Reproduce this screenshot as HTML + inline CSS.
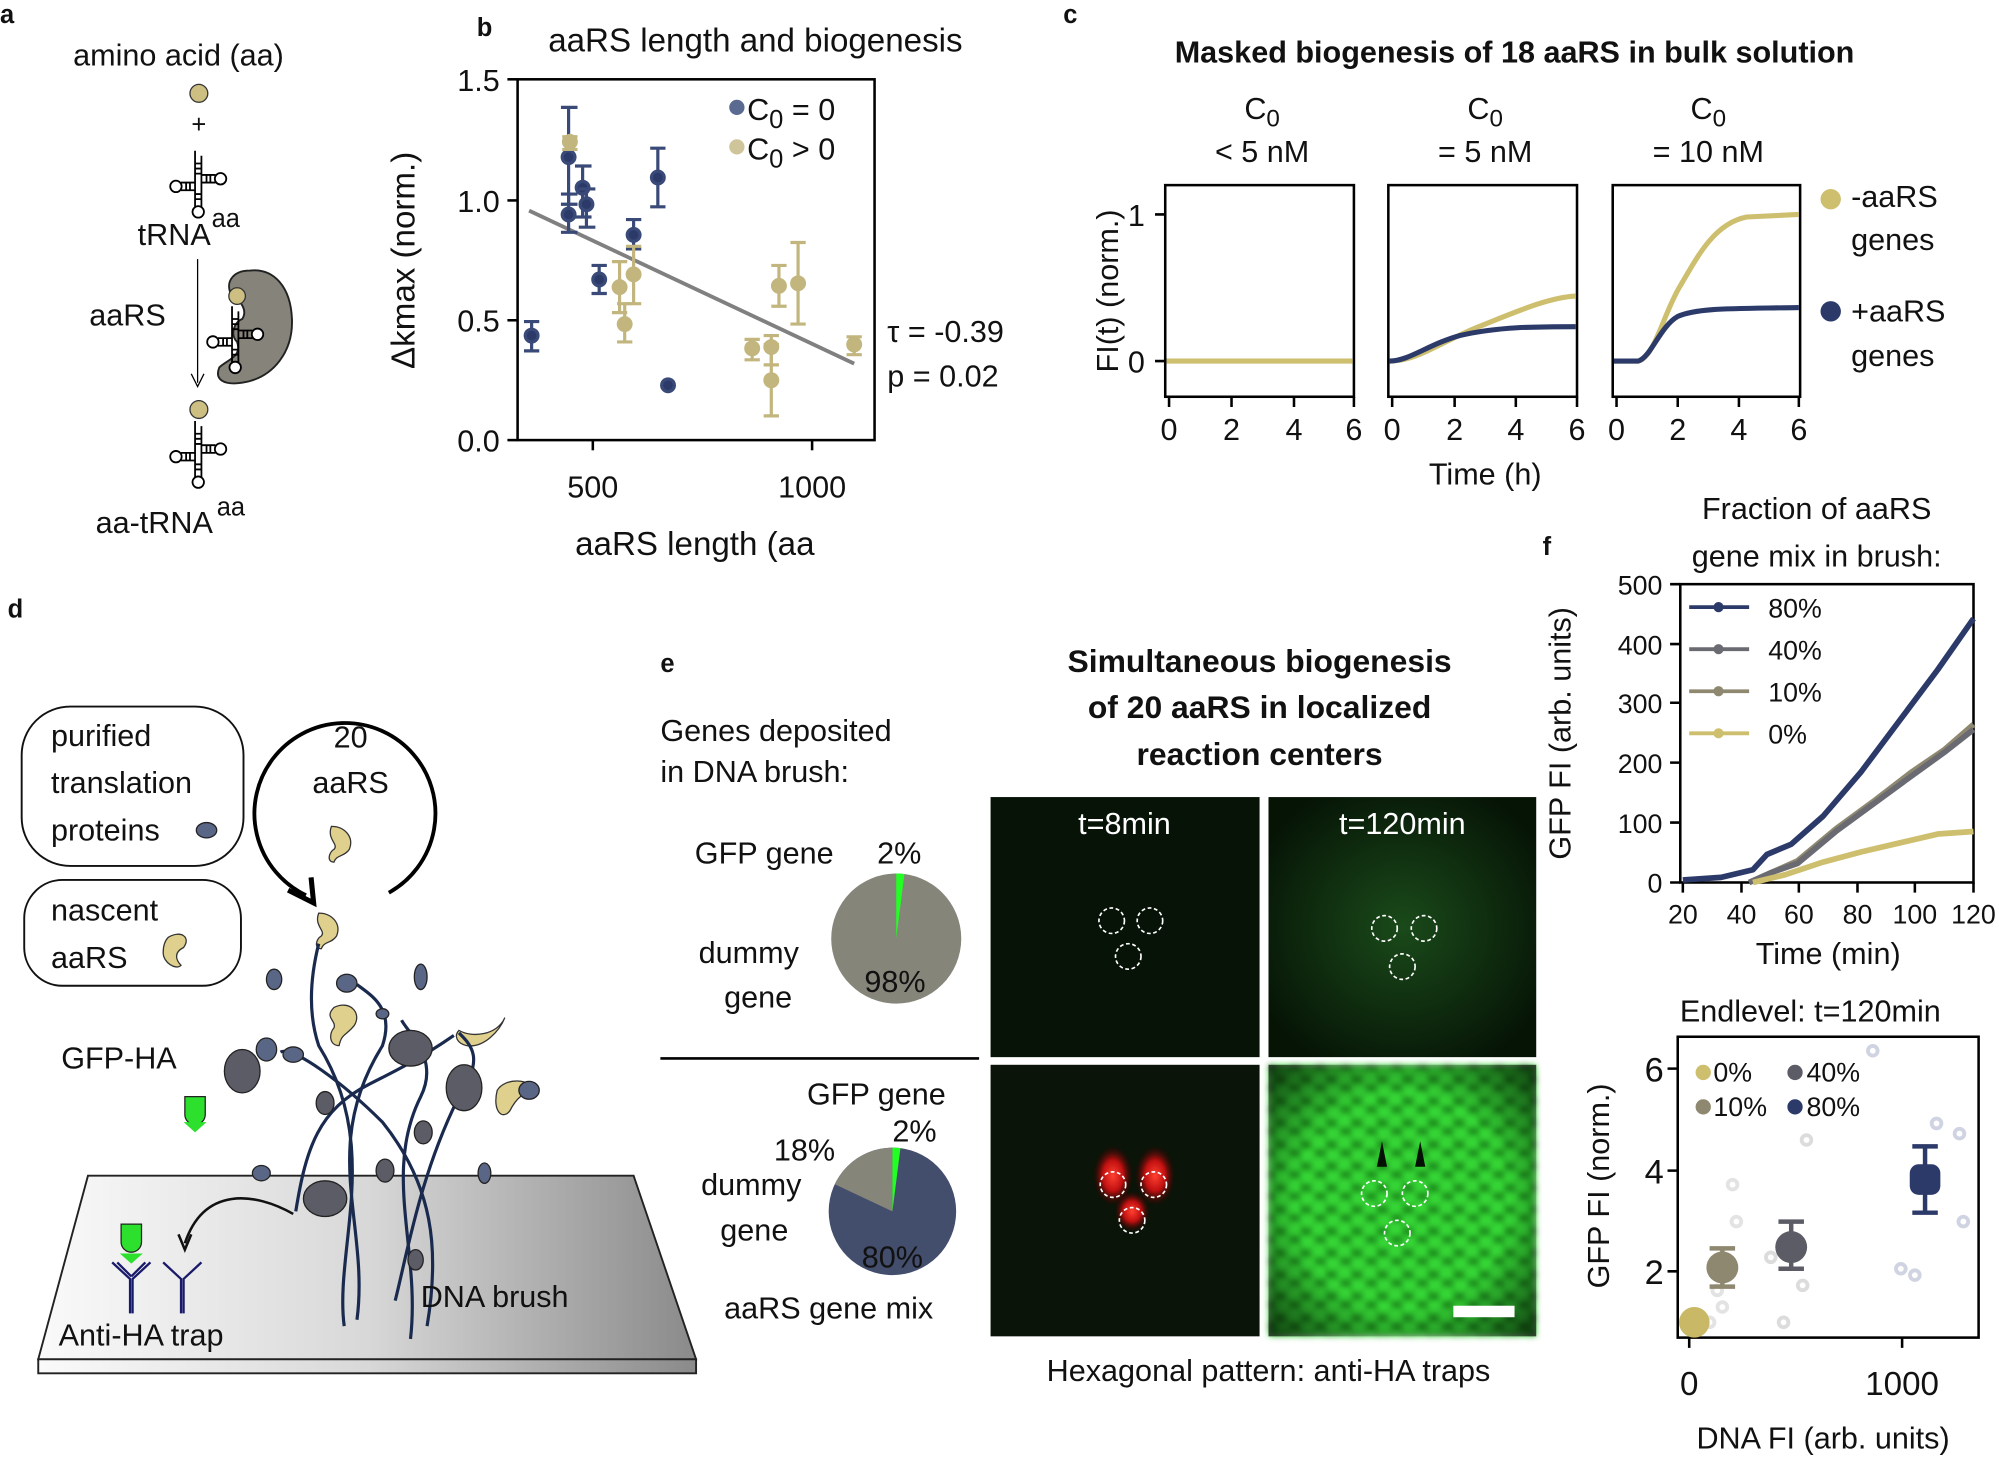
<!DOCTYPE html>
<html><head><meta charset="utf-8"><style>
html,body{margin:0;padding:0;background:#fff}
svg{display:block}
text{font-family:"Liberation Sans","DejaVu Sans",sans-serif;fill:#111}
.t{font-size:24px}
.b{font-weight:bold}
</style></head><body>
<svg width="1999" height="1459" viewBox="0 0 1568 1144" xmlns="http://www.w3.org/2000/svg">
<defs>
<linearGradient id="pl" x1="0" x2="1" y1="0" y2="0"><stop offset="0" stop-color="#fafafa"/><stop offset="0.5" stop-color="#d8d8d8"/><stop offset="1" stop-color="#8a8a8a"/></linearGradient>
<pattern id="hex" width="20" height="17" patternUnits="userSpaceOnUse"><rect width="20" height="17" fill="#1b8c1b"/><circle cx="5" cy="4" r="6.5" fill="#36d636"/><circle cx="15" cy="12.5" r="6.5" fill="#36d636"/></pattern>
<filter id="bl"><feGaussianBlur stdDeviation="2.2"/></filter>
<radialGradient id="vg" cx="0.5" cy="0.5" r="0.72"><stop offset="0.55" stop-color="#000" stop-opacity="0"/><stop offset="1" stop-color="#000" stop-opacity="0.75"/></radialGradient>
<radialGradient id="gl" cx="0.5" cy="0.5" r="0.6"><stop offset="0" stop-color="#1a4a1a"/><stop offset="1" stop-color="#061406"/></radialGradient>
<radialGradient id="rd" cx="0.5" cy="0.5" r="0.5"><stop offset="0" stop-color="#ff4030"/><stop offset="0.5" stop-color="#c01010"/><stop offset="1" stop-color="#300" stop-opacity="0"/></radialGradient>
<g id="trna" stroke="#000" stroke-width="1.4" fill="#fff">
<path d="M-2 -22 V22 M3 -18 V22" fill="none"/>
<path d="M-2 -12 h5 M-2 -8 h5 M-2 -4 h5 M-2 12 h5 M-2 16 h5" fill="none"/>
<path d="M3 -3 H14 M3 3 H14 M7 -3 v6 M10 -3 v6" fill="none"/>
<circle cx="18" cy="0" r="4.5"/>
<path d="M-2 3 H-13 M-2 9 H-13 M-6 3 v6 M-9 3 v6" fill="none"/>
<circle cx="-17" cy="6" r="4.5"/>
<circle cx="0.5" cy="26" r="4.5"/>
</g>
</defs>

<!-- ===== Panel a ===== -->
<text x="0" y="18" class="b" font-size="20">a</text>
<text x="140" y="51" class="t" text-anchor="middle">amino acid (aa)</text>
<circle cx="156" cy="73" r="7" fill="#cdbf82" stroke="#333"/>
<text x="156" y="104" font-size="20" text-anchor="middle">+</text>
<use href="#trna" x="155" y="140"/>
<text x="108" y="192" class="t">tRNA</text><text x="166" y="178" font-size="20">aa</text>
<path d="M196 212 C182 212 176 222 182 232 C190 236 194 244 190 250 C184 252 180 262 186 268 C190 280 178 282 172 288 C168 298 176 302 190 300 C215 296 230 275 229 250 C228 225 215 210 196 212Z" fill="#86847a" stroke="#222" stroke-width="1.5"/>
<circle cx="186" cy="232" r="6.5" fill="#cdbf82" stroke="#333"/>
<use href="#trna" x="184" y="262" transform="scale(1)"/>
<line x1="155" y1="203" x2="155" y2="300" stroke="#000"/><path d="M150 293 L155 303 L160 293" fill="none" stroke="#000"/>
<text x="70" y="255" class="t">aaRS</text>
<circle cx="156" cy="321" r="7" fill="#cdbf82" stroke="#333"/>
<use href="#trna" x="155" y="352"/>
<text x="75" y="418" class="t">aa-tRNA</text><text x="170" y="404" font-size="20">aa</text>

<!-- ===== Panel b ===== -->
<text x="374" y="28" class="b" font-size="20">b</text>
<text x="430" y="40" font-size="26">aaRS length and biogenesis</text>
<rect x="406" y="62" width="280" height="283" fill="none" stroke="#000" stroke-width="2"/>
<g stroke="#000" stroke-width="2"><line x1="398" y1="62" x2="406" y2="62"/><line x1="398" y1="157" x2="406" y2="157"/><line x1="398" y1="251" x2="406" y2="251"/><line x1="398" y1="345" x2="406" y2="345"/><line x1="465" y1="345" x2="465" y2="353"/><line x1="637" y1="345" x2="637" y2="353"/></g>
<g class="t" text-anchor="end"><text x="392" y="71">1.5</text><text x="392" y="166">1.0</text><text x="392" y="260">0.5</text><text x="392" y="354">0.0</text></g>
<text x="465" y="390" class="t" text-anchor="middle">500</text><text x="637" y="390" class="t" text-anchor="middle">1000</text>
<text x="545" y="435" font-size="26" text-anchor="middle">aaRS length (aa</text>
<text transform="translate(325,204) rotate(-90)" font-size="26" text-anchor="middle">Δkmax (norm.)</text>
<line x1="415" y1="165" x2="670" y2="285" stroke="#808080" stroke-width="3"/>
<g stroke="#3a4a78" stroke-width="2.5" fill="#2c3a6a">
<path d="M411 252 H423 M417 252 V275 M411 275 H423"/><circle cx="417" cy="263" r="5"/>
<path d="M440 84 H453 M446 84 V160 M440 160 H453"/><circle cx="446" cy="123" r="5"/>
<path d="M440 152 H453 M446 152 V182 M440 182 H453"/><circle cx="446" cy="168" r="5"/>
<path d="M451 130 H464 M457 130 V170 M451 170 H464"/><circle cx="457" cy="147" r="5"/>
<path d="M454 148 H467 M460 148 V178 M454 178 H467"/><circle cx="460" cy="160" r="5"/>
<path d="M464 208 H476 M470 208 V230 M464 230 H476"/><circle cx="470" cy="219" r="5"/>
<path d="M491 172 H503 M497 172 V195 M491 195 H503"/><circle cx="497" cy="184" r="5"/>
<path d="M510 116 H522 M516 116 V162 M510 162 H522"/><circle cx="516" cy="139" r="5"/>
<circle cx="524" cy="302" r="5"/>
</g>
<g stroke="#c2b67e" stroke-width="2.5" fill="#c2b67e">
<path d="M441 107 H453 M447 107 V117 M441 117 H453"/><circle cx="447" cy="111" r="5"/>
<path d="M480 205 H492 M486 205 V245 M480 245 H492"/><circle cx="486" cy="225" r="5"/>
<path d="M484 238 H496 M490 238 V268 M484 268 H496"/><circle cx="490" cy="254" r="5"/>
<path d="M491 193 H503 M497 193 V238 M491 238 H503"/><circle cx="497" cy="215" r="5"/>
<path d="M599 263 H611 M605 263 V286 M599 286 H611"/><circle cx="605" cy="272" r="5"/>
<path d="M584 266 H596 M590 266 V282 M584 282 H596"/><circle cx="590" cy="273" r="5"/>
<path d="M599 270 H611 M605 270 V326 M599 326 H611"/><circle cx="605" cy="298" r="5"/>
<path d="M605 208 H617 M611 208 V240 M605 240 H617"/><circle cx="611" cy="224" r="5"/>
<path d="M620 190 H632 M626 190 V254 M620 254 H632"/><circle cx="626" cy="222" r="5"/>
<path d="M664 264 H676 M670 264 V278 M664 278 H676"/><circle cx="670" cy="270" r="5"/>
</g>
<circle cx="578" cy="84" r="6" fill="#5a6a90"/><text x="586" y="94" class="t">C<tspan font-size="20" dy="6">0</tspan><tspan dy="-6"> = 0</tspan></text>
<circle cx="578" cy="115" r="6" fill="#cfc49a"/><text x="586" y="125" class="t">C<tspan font-size="20" dy="6">0</tspan><tspan dy="-6"> &gt; 0</tspan></text>
<text x="696" y="268" class="t">τ = -0.39</text>
<text x="696" y="303" class="t">p = 0.02</text>

<!-- ===== Panel c ===== -->
<text x="834" y="18" class="b" font-size="20">c</text>
<text x="1188" y="49" font-size="24" class="b" text-anchor="middle">Masked biogenesis of 18 aaRS in bulk solution</text>
<g class="t" text-anchor="middle">
<text x="990" y="93">C<tspan font-size="19" dy="6">0</tspan></text><text x="990" y="127">&lt; 5 nM</text>
<text x="1165" y="93">C<tspan font-size="19" dy="6">0</tspan></text><text x="1165" y="127">= 5 nM</text>
<text x="1340" y="93">C<tspan font-size="19" dy="6">0</tspan></text><text x="1340" y="127">= 10 nM</text>
</g>
<g fill="none" stroke="#000" stroke-width="2">
<rect x="914" y="145" width="148" height="166"/><rect x="1089" y="145" width="148" height="166"/><rect x="1265" y="145" width="147" height="166"/>
<path d="M906 168 H914 M906 283 H914"/>
<path d="M917 311 v8 M966 311 v8 M1015 311 v8 M1062 311 v8"/>
<path d="M1092 311 v8 M1141 311 v8 M1189 311 v8 M1237 311 v8"/>
<path d="M1268 311 v8 M1316 311 v8 M1364 311 v8 M1411 311 v8"/>
</g>
<g class="t" text-anchor="middle">
<text x="917" y="345">0</text><text x="966" y="345">2</text><text x="1015" y="345">4</text><text x="1062" y="345">6</text>
<text x="1092" y="345">0</text><text x="1141" y="345">2</text><text x="1189" y="345">4</text><text x="1237" y="345">6</text>
<text x="1268" y="345">0</text><text x="1316" y="345">2</text><text x="1364" y="345">4</text><text x="1411" y="345">6</text>
<text x="1165" y="380">Time (h)</text>
</g>
<text x="898" y="177" class="t" text-anchor="end">1</text><text x="898" y="292" class="t" text-anchor="end">0</text>
<text transform="translate(877,228) rotate(-90)" class="t" text-anchor="middle">FI(t) (norm.)</text>
<line x1="915" y1="283" x2="1061" y2="283" stroke="#cdbf6e" stroke-width="4"/>
<path d="M1090 283 C1112 283 1130 268 1160 256 C1190 244 1215 233 1236 232" fill="none" stroke="#cdbf6e" stroke-width="4"/>
<path d="M1090 283 C1105 283 1120 270 1145 263 C1175 256 1205 256 1236 256" fill="none" stroke="#2c3a6a" stroke-width="4"/>
<path d="M1266 283 L1285 283 C1298 280 1305 245 1318 224 C1332 200 1345 175 1370 170 L1411 168" fill="none" stroke="#cdbf6e" stroke-width="4"/>
<path d="M1266 283 L1285 283 C1295 280 1302 256 1316 248 C1332 241 1360 242 1411 241" fill="none" stroke="#2c3a6a" stroke-width="4"/>
<circle cx="1436" cy="156" r="8" fill="#cdbf6e"/><text x="1452" y="162" class="t">-aaRS</text><text x="1452" y="196" class="t">genes</text>
<circle cx="1436" cy="244" r="8" fill="#2c3a6a"/><text x="1452" y="252" class="t">+aaRS</text><text x="1452" y="287" class="t">genes</text>

<!-- ===== Panel d ===== -->
<text x="6" y="484" class="b" font-size="20">d</text>
<polygon points="69,922 497,922 546,1066 30,1066" fill="url(#pl)" stroke="#222" stroke-width="1.5"/>
<rect x="30" y="1066" width="516" height="11" fill="url(#pl)" stroke="#222" stroke-width="1.5"/>
<rect x="17" y="554" width="174" height="125" rx="38" fill="#fff" stroke="#111" stroke-width="1.5"/>
<text x="40" y="585" class="t">purified</text><text x="40" y="622" class="t">translation</text><text x="40" y="659" class="t">proteins</text>
<ellipse cx="162" cy="651" rx="8" ry="6" fill="#5a6685" stroke="#222"/>
<rect x="19" y="690" width="170" height="83" rx="30" fill="#fff" stroke="#111" stroke-width="1.5"/>
<text x="40" y="722" class="t">nascent</text><text x="40" y="759" class="t">aaRS</text>
<path d="M305 700 A71 71 0 1 0 240 702" fill="none" stroke="#000" stroke-width="3"/>
<path d="M226 698 L246 708 L244 688" fill="none" stroke="#000" stroke-width="4"/>
<text x="275" y="586" class="t" text-anchor="middle">20</text><text x="275" y="622" class="t" text-anchor="middle">aaRS</text>
<g fill="#e0d08e" stroke="#333" stroke-width="1">
<path d="M132 735 c10 -6 18 0 12 8 c-8 4 -6 10 -2 14 c-4 4 -14 -2 -14 -10 c0 -6 2 -10 4 -12z"/>
<path d="M260 648 c10 0 18 8 14 18 c-4 6 -10 4 -12 10 c-6 0 -4 -8 0 -10 c4 -4 -6 -8 -2 -18z"/>
<path d="M250 716 c10 0 18 8 14 18 c-4 6 -10 4 -12 10 c-6 0 -4 -8 0 -10 c4 -4 -6 -8 -2 -18z"/>
<path d="M262 790 c12 -6 22 4 16 14 c-6 8 -10 6 -12 16 c-8 0 -8 -10 -4 -14 c2 -6 -8 -8 0 -16z"/>
<path d="M360 808 c10 6 30 4 36 -10 c-4 10 -16 24 -30 22 c-8 -2 -10 -8 -6 -12z"/>
<path d="M390 855 c6 -10 26 -10 32 2 c-10 -4 -18 6 -22 14 c-6 8 -14 0 -10 -16z"/>
</g>
<g fill="none" stroke="#1a2a4e" stroke-width="2.5">
<path d="M270 1040 C262 980 300 900 250 820 C240 790 245 760 250 740"/>
<path d="M280 1035 C290 960 250 900 300 820 C310 790 290 780 280 772"/>
<path d="M322 1050 C330 980 300 920 330 860 C345 830 320 810 315 800"/>
<path d="M335 1040 C345 980 340 930 300 880 C270 850 230 820 220 825"/>
<path d="M310 1020 C320 980 330 920 360 860 C380 830 370 820 360 810"/>
<path d="M232 950 C240 900 250 870 290 850 C310 840 330 830 356 812"/>
</g>
<g fill="#5a6685" stroke="#222" stroke-width="1">
<ellipse cx="215" cy="768" rx="6" ry="8"/><ellipse cx="272" cy="771" rx="8" ry="7"/><ellipse cx="209" cy="823" rx="8" ry="9"/>
<ellipse cx="330" cy="766" rx="5" ry="10"/><ellipse cx="300" cy="795" rx="5" ry="4"/><ellipse cx="415" cy="855" rx="8" ry="7"/>
<ellipse cx="380" cy="920" rx="5" ry="8"/><ellipse cx="205" cy="920" rx="7" ry="6"/><ellipse cx="230" cy="827" rx="8" ry="6"/>
</g>
<g fill="#5c5c66" stroke="#222" stroke-width="1">
<ellipse cx="190" cy="840" rx="14" ry="17"/><ellipse cx="322" cy="822" rx="17" ry="14"/><ellipse cx="364" cy="853" rx="14" ry="18"/>
<ellipse cx="255" cy="940" rx="17" ry="14"/><ellipse cx="255" cy="865" rx="7" ry="9"/><ellipse cx="302" cy="918" rx="7" ry="9"/><ellipse cx="332" cy="888" rx="7" ry="9"/><ellipse cx="326" cy="988" rx="6" ry="8"/>
</g>
<text x="48" y="838" class="t">GFP-HA</text>
<path d="M145 860 h16 v14 a8 8 0 0 1 -16 0z" fill="#2ee02e" stroke="#222"/><path d="M144 880 L162 880 L153 888z" fill="#2ee02e"/>
<path d="M95 960 h16 v14 a8 8 0 0 1 -16 0z" fill="#2ee02e" stroke="#222"/><path d="M94 983 L112 983 L103 991z" fill="#2ee02e"/>
<path d="M230 952 C200 935 160 930 145 975" fill="none" stroke="#111" stroke-width="2"/><path d="M140 968 L145 980 L150 968" fill="none" stroke="#111" stroke-width="2"/>
<g fill="none" stroke="#1a1a6a" stroke-width="1.8"><path d="M88 990 L102 1003 V1030 M118 990 L104 1003 V1030 M92 990 L103 1001 M114 990 L103 1001"/><path d="M128 990 L142 1003 V1030 M158 990 L144 1003 V1030"/></g>
<text x="46" y="1055" class="t">Anti-HA trap</text>
<text x="330" y="1025" class="t">DNA brush</text>

<!-- ===== Panel e ===== -->
<text x="518" y="527" class="b" font-size="20">e</text>
<text x="518" y="581" class="t">Genes deposited</text><text x="518" y="613" class="t">in DNA brush:</text>
<text x="545" y="677" class="t">GFP gene</text><text x="688" y="677" class="t">2%</text>
<text x="548" y="755" class="t">dummy</text><text x="568" y="790" class="t">gene</text>
<circle cx="703" cy="736" r="51" fill="#86857a"/>
<path d="M703 736 L703 685 A51 51 0 0 1 709.4 685.4Z" fill="#22ff22"/>
<text x="702" y="778" class="t" text-anchor="middle">98%</text>
<line x1="518" y1="830" x2="768" y2="830" stroke="#000" stroke-width="2"/>
<text x="633" y="866" class="t">GFP gene</text><text x="700" y="895" class="t">2%</text>
<text x="607" y="910" class="t">18%</text><text x="550" y="937" class="t">dummy</text><text x="565" y="973" class="t">gene</text>
<circle cx="700" cy="950" r="50" fill="#434d6c"/>
<path d="M700 950 L654.8 928.7 A50 50 0 0 1 700 900Z" fill="#86857a"/>
<path d="M700 950 L700 900 A50 50 0 0 1 706.3 900.4Z" fill="#22ff22"/>
<text x="700" y="994" class="t" text-anchor="middle">80%</text>
<text x="568" y="1034" class="t">aaRS gene mix</text>
<text x="988" y="527" class="b" font-size="25" text-anchor="middle">Simultaneous biogenesis</text>
<text x="988" y="563" class="b" font-size="25" text-anchor="middle">of 20 aaRS in localized</text>
<text x="988" y="600" class="b" font-size="25" text-anchor="middle">reaction centers</text>
<rect x="777" y="625" width="211" height="204" fill="#061306"/>
<rect x="995" y="625" width="210" height="204" fill="url(#gl)"/>
<rect x="777" y="835" width="211" height="213" fill="#0a1408"/>
<g><rect x="995" y="835" width="210" height="213" fill="url(#hex)" filter="url(#bl)"/></g>
<rect x="995" y="835" width="210" height="213" fill="url(#vg)"/>
<ellipse cx="873" cy="922" rx="16" ry="24" fill="url(#rd)"/><ellipse cx="906" cy="922" rx="16" ry="24" fill="url(#rd)"/><ellipse cx="888" cy="950" rx="14" ry="16" fill="url(#rd)"/>
<path d="M1080 915 l4 -20 l4 20z M1110 915 l4 -20 l4 20z" fill="#031003"/>
<g fill="none" stroke="#fff" stroke-width="1.3" stroke-dasharray="3 2">
<circle cx="872" cy="722" r="10"/><circle cx="902" cy="722" r="10"/><circle cx="885" cy="750" r="10"/>
<circle cx="1086" cy="728" r="10"/><circle cx="1117" cy="728" r="10"/><circle cx="1100" cy="758" r="10"/>
<circle cx="873" cy="929" r="10"/><circle cx="905" cy="929" r="10"/><circle cx="888" cy="957" r="10"/>
<circle cx="1078" cy="936" r="10"/><circle cx="1110" cy="936" r="10"/><circle cx="1096" cy="967" r="10"/>
</g>
<text x="882" y="654" class="t" text-anchor="middle" style="fill:#fff">t=8min</text>
<text x="1100" y="654" class="t" text-anchor="middle" style="fill:#fff">t=120min</text>
<rect x="1140" y="1024" width="48" height="9" fill="#fff"/>
<text x="995" y="1083" class="t" text-anchor="middle">Hexagonal pattern: anti-HA traps</text>

<!-- ===== Panel f top ===== -->
<text x="1210" y="435" class="b" font-size="20">f</text>
<text x="1425" y="407" class="t" text-anchor="middle">Fraction of aaRS</text>
<text x="1425" y="444" class="t" text-anchor="middle">gene mix in brush:</text>
<rect x="1318" y="458" width="230" height="234" fill="none" stroke="#000" stroke-width="2"/>
<g stroke="#000" stroke-width="2"><path d="M1310 458 h8 M1310 505 h8 M1310 551 h8 M1310 598 h8 M1310 645 h8 M1310 692 h8"/><path d="M1320 692 v8 M1366 692 v8 M1411 692 v8 M1457 692 v8 M1502 692 v8 M1548 692 v8"/></g>
<g font-size="21" text-anchor="end"><text x="1304" y="466">500</text><text x="1304" y="513">400</text><text x="1304" y="559">300</text><text x="1304" y="606">200</text><text x="1304" y="653">100</text><text x="1304" y="700">0</text></g>
<g font-size="21" text-anchor="middle"><text x="1320" y="724">20</text><text x="1366" y="724">40</text><text x="1411" y="724">60</text><text x="1457" y="724">80</text><text x="1502" y="724">100</text><text x="1548" y="724">120</text></g>
<text x="1434" y="756" class="t" text-anchor="middle">Time (min)</text>
<text transform="translate(1232,575) rotate(-90)" class="t" text-anchor="middle">GFP FI (arb. units)</text>
<g fill="none" stroke-width="4.5" stroke-linejoin="round">
<path d="M1320 690 L1350 688 L1375 682 L1386 670 L1405 662 L1430 640 L1460 605 L1490 565 L1520 525 L1548 485" stroke="#2c3a6a"/>
<path d="M1372 692 L1390 684 L1410 675 L1440 650 L1470 628 L1500 605 L1525 588 L1548 568" stroke="#8e8870"/>
<path d="M1372 692 L1390 684 L1410 677 L1440 652 L1470 630 L1500 608 L1525 590 L1548 572" stroke="#6a6a72"/>
<path d="M1375 692 L1400 686 L1430 676 L1460 668 L1490 661 L1520 654 L1548 652" stroke="#cdbf6e"/>
</g>
<g stroke-width="3"><line x1="1325" y1="476" x2="1372" y2="476" stroke="#2c3a6a"/><line x1="1325" y1="509" x2="1372" y2="509" stroke="#6a6a72"/><line x1="1325" y1="542" x2="1372" y2="542" stroke="#8e8870"/><line x1="1325" y1="575" x2="1372" y2="575" stroke="#cdbf6e"/></g>
<g><circle cx="1348" cy="476" r="4" fill="#2c3a6a"/><circle cx="1348" cy="509" r="4" fill="#6a6a72"/><circle cx="1348" cy="542" r="4" fill="#8e8870"/><circle cx="1348" cy="575" r="4" fill="#cdbf6e"/></g>
<g font-size="21"><text x="1387" y="484">80%</text><text x="1387" y="517">40%</text><text x="1387" y="550">10%</text><text x="1387" y="583">0%</text></g>

<!-- ===== Panel f bottom ===== -->
<text x="1420" y="801" class="t" text-anchor="middle">Endlevel: t=120min</text>
<rect x="1316" y="813" width="236" height="236" fill="none" stroke="#000" stroke-width="2"/>
<g stroke="#000" stroke-width="2"><path d="M1308 838 h8 M1308 918 h8 M1308 997 h8"/><path d="M1325 1049 v8 M1492 1049 v8"/></g>
<g font-size="27" text-anchor="end"><text x="1305" y="848">6</text><text x="1305" y="928">4</text><text x="1305" y="1007">2</text></g>
<text x="1325" y="1094" font-size="26" text-anchor="middle">0</text><text x="1492" y="1094" font-size="26" text-anchor="middle">1000</text>
<text x="1430" y="1136" class="t" text-anchor="middle">DNA FI (arb. units)</text>
<text transform="translate(1262,930) rotate(-90)" class="t" text-anchor="middle">GFP FI (norm.)</text>
<g stroke-width="3" fill="none" opacity="0.4">
<circle cx="1469" cy="824" r="3.8" stroke="#8a94b8"/><circle cx="1519" cy="881" r="3.8" stroke="#8a94b8"/><circle cx="1537" cy="889" r="3.8" stroke="#8a94b8"/><circle cx="1540" cy="958" r="3.8" stroke="#8a94b8"/><circle cx="1491" cy="995" r="3.8" stroke="#8a94b8"/><circle cx="1502" cy="1000" r="3.8" stroke="#8a94b8"/>
<circle cx="1417" cy="894" r="3.8" stroke="#aaa"/><circle cx="1389" cy="986" r="3.8" stroke="#aaa"/><circle cx="1414" cy="1008" r="3.8" stroke="#aaa"/><circle cx="1399" cy="1037" r="3.8" stroke="#aaa"/>
<circle cx="1359" cy="929" r="3.8" stroke="#bbb"/><circle cx="1362" cy="958" r="3.8" stroke="#bbb"/><circle cx="1351" cy="1025" r="3.8" stroke="#bbb"/><circle cx="1347" cy="1012" r="3.8" stroke="#bbb"/><circle cx="1341" cy="1037" r="3.8" stroke="#bbb"/>
</g>
<circle cx="1329" cy="1037" r="12" fill="#c9b866"/>
<g stroke-width="3.5"><path d="M1341 979 H1361 M1351 979 V1009 M1341 1009 H1361" stroke="#8e8870"/><path d="M1395 958 H1415 M1405 958 V995 M1395 995 H1415" stroke="#5c5c66"/><path d="M1500 899 H1520 M1510 899 V951 M1500 951 H1520" stroke="#2c3a6a"/></g>
<circle cx="1351" cy="994" r="12.5" fill="#8e8870"/><circle cx="1405" cy="978" r="12.5" fill="#5c5c66"/>
<rect x="1498" y="913" width="24" height="24" rx="7" fill="#2c3a6a"/>
<g font-size="21"><circle cx="1336" cy="841" r="6" fill="#cdbf6e"/><text x="1344" y="848">0%</text><circle cx="1408" cy="841" r="6" fill="#5c5c66"/><text x="1417" y="848">40%</text>
<circle cx="1336" cy="868" r="6" fill="#8e8870"/><text x="1344" y="875">10%</text><circle cx="1408" cy="868" r="6" fill="#2c3a6a"/><text x="1417" y="875">80%</text></g>
</svg>
</body></html>
